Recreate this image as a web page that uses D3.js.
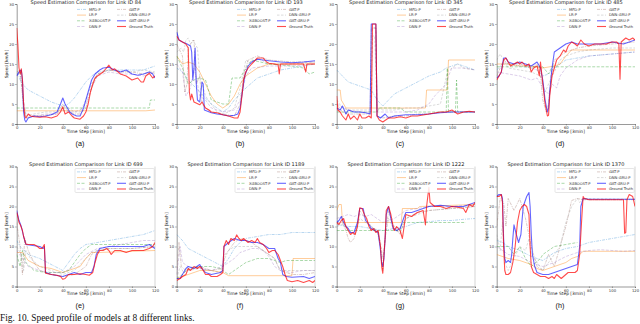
<!DOCTYPE html>
<html>
<head>
<meta charset="utf-8">
<script src="https://cdn.jsdelivr.net/npm/d3@7"></script>
<style>
  body { margin: 0; background: #fff; }
  svg { display: block; }
</style>
</head>
<body>
<div id="chart"></div>
<script>
// Speed profile of 8 models at 8 links, one small panel per link

const links = [84, 193, 345, 485, 699, 1189, 1222, 1370];
const panelTags = ["(a)", "(b)", "(c)", "(d)", "(e)", "(f)", "(g)", "(h)"];
const seriesNames = ["MFD-P", "LR-P", "XGBOOST-P", "DNN-P", "GAT-P", "DNN-GRU-P", "GAT-GRU-P", "Ground Truth"];
const xTicks = [0, 20, 40, 60, 80, 100, 120];
const yTicks = [0, 5, 10, 15, 20, 25, 30];

// ---- link 84 ----
const mfd84 = [[1,13],[3,11],[5,10],[10,8.5],[20,7],[30,5.5],[40,4.5],[45,5],[50,6.5],[55,8.5],[60,10.5],[65,12],[70,13],[80,13.5],[90,13.5],[100,13.5],[110,13.5],[120,14.5]];
const lr84 = [[0,3.3],[75,3.3],[112,3.3],[120,3.5]];
const xgb84 = [[0,4],[96,4],[115,4],[116,6],[120,6]];
const dnn84 = [[0,12],[3,13],[6,6],[8,2.5],[15,2],[25,2.5],[35,2.5],[40,3.5],[45,3],[50,3],[55,3.5],[60,5],[65,9],[70,12],[80,13],[90,12.5],[100,12.5],[110,12],[120,13]];
const gat84 = [[0,13],[3,13.5],[6,4],[8,1.5],[15,2],[25,2.2],[35,2.5],[40,5],[45,3],[50,2.5],[55,2.5],[60,4],[65,9],[70,12.5],[80,13.5],[90,13],[100,13],[110,12.5],[115,13],[120,12.5]];
const dnngru84 = [[0,12.5],[3,13],[6,5],[8,2],[15,2.5],[25,3],[35,3],[40,4],[45,4],[50,3],[55,3],[60,6],[65,10],[70,12.5],[80,13.5],[90,13.2],[100,13],[110,13.5],[120,13]];
const gatgru84 = [[0,12],[2,13],[4,13.5],[5,11],[6,3],[7,1],[8,0.5],[10,1.5],[15,2],[20,1.8],[25,2],[30,2.3],[35,3],[38,5],[40,6.5],[42,5],[44,4],[46,3],[48,2.5],[52,2],[55,2],[58,4],[60,6],[62,8],[65,11],[68,12.5],[72,13.5],[75,14],[80,14.2],[85,13.5],[90,13],[95,13.5],[100,12.5],[105,12.2],[110,12.5],[115,13],[118,12.5],[120,11.5]];
const truth84 = [[0,24],[1,20],[2,14],[3,12.5],[4,13.8],[5,11],[6,5],[7,2],[8,1.5],[10,2.5],[12,2],[15,1.8],[20,1.7],[25,1.8],[30,1.5],[35,2],[38,3],[40,4.3],[42,2.5],[45,3],[48,2],[50,1.5],[55,1.2],[58,2],[60,3],[62,5],[64,8],[66,10],[68,11.5],[70,12],[75,13],[80,14.7],[83,13.5],[85,13.8],[90,12.5],[95,12],[100,11],[105,11.5],[108,10.5],[110,10.5],[112,12],[115,12.7],[118,11.5],[120,12]];

// ---- link 193 ----
const mfd193 = [[0,14],[5,13],[10,11],[20,8],[30,5],[40,3],[45,4],[50,6],[60,9],[70,11.5],[80,12.5],[90,13.5],[100,14],[110,14.5],[120,15]];
const lr193 = [[0,17],[5,15],[10,15.5],[15,15],[20,13],[25,10],[30,7],[35,5],[40,4],[45,5],[50,7],[55,10],[60,12],[70,14],[80,15],[90,15],[100,15],[110,15],[120,15]];
const xgb193 = [[0,17],[5,14],[10,10],[15,11],[20,11.5],[25,11],[30,6],[35,5.5],[40,5],[45,5],[48,11.5],[55,11.5],[58,13],[65,16],[80,15],[100,14.5],[110,14],[115,12.5],[120,13]];
const dnn193 = [[0,15],[5,13],[8,7],[12,9],[15,14],[18,10],[20,7],[25,6],[30,4],[40,3],[50,3.5],[55,6],[60,12],[65,14],[80,14.5],[100,14.5],[120,15]];
const gat193 = [[0,20],[5,17],[7,8],[9,10],[10,19],[12,20],[15,21],[17,10],[20,12],[22,5],[25,4],[30,3],[40,2.5],[50,2],[55,5],[58,12],[62,16],[70,17],[80,16],[100,15.5],[120,15.5]];
const dnngru193 = [[0,18],[4,19],[6,18],[8,21],[10,21.5],[12,20],[14,21],[16,20],[18,19],[20,12],[22,10],[25,7],[30,5],[35,3],[40,2.5],[45,3],[50,4],[55,9],[58,13],[60,16],[65,15],[70,16.5],[80,15],[100,15],[120,15.5]];
const gatgru193 = [[0,23],[2,21],[5,20.5],[9,20],[12,19.5],[13,18],[14,11],[15,14],[16,19],[17,10],[18,6],[20,5.5],[22,10.5],[23,10],[24,3.5],[30,2.8],[35,2.5],[40,2.3],[45,2],[50,2.2],[53,2.5],[55,4],[57,8],[59,12],[62,14.5],[65,15.5],[70,16.2],[75,16],[80,15.8],[90,15.5],[100,15.3],[110,15.5],[120,15.8]];
const truth193 = [[0,22],[2,21],[5,20.5],[8,20],[10,19],[11,8],[12,6],[13,7.5],[15,5.5],[20,4.8],[22,5.5],[25,4],[28,3.5],[30,3],[35,2.8],[40,2.3],[45,2],[50,1.5],[53,1.5],[55,3],[57,8],[58,11],[60,13],[62,14],[65,15],[70,16.5],[75,16.5],[78,15.5],[80,15.2],[85,15],[88,14.8],[89,12.5],[90,15],[100,15],[110,15],[112,13],[113,15],[120,15]];

// ---- link 345 ----
const mfd345 = [[0,13.5],[5,12],[10,10.5],[20,9.5],[30,8.5],[35,6],[40,4.5],[45,6],[50,7.5],[60,9],[70,10.5],[80,12],[90,13],[95,14],[100,14.5],[105,15],[110,14.5],[120,13.5]];
const lr345 = [[0,8.5],[3,8.5],[4,6],[8,4],[77,4],[78,8.5],[96,8.5],[97,16],[120,16]];
const xgb345 = [[0,3],[30,3],[35,3],[37,4],[55,4],[60,3],[95,3],[96,14],[97,3],[103,3],[104,11],[105,3],[120,3]];
const dnn345 = [[0,5],[10,3.5],[20,3],[30,3],[31,24],[34,24],[35,3],[40,3],[50,3],[60,3],[70,3.5],[80,5],[85,7],[90,8.5],[95,10],[97,12],[100,14],[105,14],[110,14],[120,13.5]];
const gat345 = [[0,5],[5,3],[10,2.5],[20,2.5],[29,2.5],[30,24],[34,24],[35,2],[40,1.5],[50,2],[60,2],[70,2.5],[80,2.5],[90,3],[100,3],[110,3],[120,3]];
const dnngru345 = [[0,6],[5,4],[10,3.5],[20,3.5],[30,3.5],[31,22],[33,22],[35,4],[40,3.5],[50,3.5],[60,4],[70,4],[80,4.5],[90,5],[96,13],[100,14],[105,15],[110,14],[120,13.5]];
const gatgru345 = [[0,4],[3,3.5],[5,4.5],[8,2.5],[10,3.5],[15,3],[20,3],[25,2.8],[29,2.5],[30,25],[34,25],[35,2],[38,1.5],[42,2.5],[45,1.5],[50,2],[60,2.3],[70,2.3],[80,2.5],[90,2.8],[100,3],[110,3],[120,3]];
const truth345 = [[0,7],[1,3.5],[3,3],[5,2],[8,1],[10,2.5],[12,1.2],[15,2],[18,1],[20,2.5],[22,1.5],[25,1.5],[28,2],[30,1.5],[31,25],[34,25],[35,2],[37,1],[40,0.5],[45,1.5],[50,1.5],[55,1.8],[60,1.5],[65,2],[70,2],[80,2.5],[90,3],[95,3],[100,3.5],[105,2.5],[110,3],[115,3.2],[120,3]];

// ---- link 485 ----
const mfd485 = [[0,13.5],[5,15],[10,15],[20,14.5],[30,14],[35,13.5],[40,12],[45,12.5],[50,14],[55,15],[60,16],[70,16.5],[80,17],[100,17.5],[120,18]];
const lr485 = [[0,15],[10,15],[20,14.5],[30,14.5],[40,14],[50,14.5],[55,15],[60,17],[65,18.5],[80,18.5],[100,18.5],[120,18.5]];
const xgb485 = [[0,14.3],[40,14.3],[45,12.5],[48,14.3],[120,14.3]];
const dnn485 = [[0,13],[10,12.5],[20,12],[30,11],[35,11.5],[40,9],[45,7.5],[48,10],[52,9],[55,12],[60,14],[70,16],[80,17],[100,17.5],[120,18]];
const gat485 = [[0,12],[3,14],[6,16],[10,15],[20,15],[30,14],[35,15],[38,12],[40,6],[43,3],[45,5],[47,12],[50,16],[60,18],[70,19],[80,19.5],[100,20],[120,20.5]];
const dnngru485 = [[0,16],[3,17.5],[6,16],[10,14],[20,13.5],[30,13],[38,12],[42,8],[45,10],[50,13],[55,16],[60,17],[70,18],[80,18.5],[100,19],[120,19]];
const gatgru485 = [[0,11.5],[2,12],[4,13],[6,16.5],[8,16.5],[10,15.5],[15,15],[20,15.5],[25,15],[30,14.5],[35,15.5],[38,14],[40,11],[42,6],[44,3],[45,4],[46,8],[48,14],[50,18],[55,19],[60,20],[65,20.5],[70,20],[75,20],[80,20],[85,20],[90,20],[100,20.5],[110,20],[115,20.5],[120,21]];
const truth485 = [[0,11],[2,12],[4,13],[6,16],[8,16.5],[10,15.5],[12,14.5],[15,15],[18,15.5],[20,15],[22,15.5],[25,14.5],[28,15],[30,13],[32,14],[35,14.5],[37,12],[38,15.5],[40,10],[42,5],[44,2],[45,2.2],[46,7],[48,12],[50,14],[52,16],[55,17],[58,18.5],[60,18],[62,19.5],[65,20.5],[68,20],[70,19.5],[73,21],[76,20],[80,19.5],[85,20],[90,20],[95,20],[100,20.5],[104,20.5],[106,20],[107,11.2],[108,20.5],[110,21],[112,21.5],[115,21],[118,21.5],[120,21]];

// ---- link 699 ----
const mfd699 = [[0,11.5],[3,10],[10,8],[20,7],[30,5.5],[40,4],[45,6],[50,8],[55,9.5],[60,10.5],[70,11],[80,11.5],[90,12],[100,12.5],[110,13],[120,14]];
const lr699 = [[0,8.5],[5,8.5],[10,6.5],[20,5],[30,4.5],[40,3.5],[45,4],[55,5],[60,7],[65,8.5],[70,8.5],[120,9]];
const xgb699 = [[0,8],[3,5],[5,9],[8,6],[15,4],[25,3.5],[35,3.5],[40,3.5],[45,4],[50,6],[55,8],[60,9.5],[65,10.5],[70,10.5],[120,10.5]];
const dnn699 = [[0,9],[5,7],[10,5],[20,4],[30,3.5],[40,3.5],[50,5],[60,8],[70,9.5],[80,10],[90,10.5],[100,11],[110,11.5],[120,11.5]];
const gat699 = [[0,16],[3,10],[5,3],[7,12],[10,9],[15,6],[20,4],[30,3],[40,2.5],[50,3],[60,5],[65,8],[70,9],[80,9.5],[100,9.5],[120,10]];
const dnngru699 = [[0,10],[4,8],[6,4],[8,9],[12,7],[20,5],[30,4],[40,3],[50,4],[60,7],[65,8.5],[70,9],[80,9.5],[100,9.5],[120,10]];
const gatgru699 = [[0,19],[2,16.5],[4,15],[6,12.5],[8,10.5],[20,10],[23,9.5],[24,10],[25,3.5],[30,3],[40,2.5],[45,3],[50,3.5],[55,3],[60,3.5],[65,3.5],[67,5],[69,8],[72,9.5],[80,10],[90,10],[100,10],[110,10],[115,10.5],[120,9.5]];
const truth699 = [[0,18.5],[1,17.5],[2,16],[3,15.5],[5,14],[6,12.5],[8,10.6],[10,10.5],[15,10.5],[18,10],[20,9.5],[22,9.5],[24,10.5],[25,3.3],[30,3],[35,2.8],[38,2.5],[40,1.8],[42,2],[45,3],[50,3],[55,3.2],[60,3],[63,2.8],[66,3.5],[68,6],[70,8],[72,9],[75,9],[78,9.5],[80,9],[82,8],[85,9],[90,9],[95,8.5],[100,9],[105,9],[110,9],[115,9.5],[118,10],[120,11]];

// ---- link 1189 ----
const mfd1189 = [[0,13],[5,11.5],[10,9.5],[20,8],[30,6.5],[40,5],[45,7],[50,9.5],[55,11],[60,12],[70,12.5],[80,13],[90,13],[100,13.5],[120,13.5]];
const lr1189 = [[0,2],[10,3],[20,4],[30,4],[40,3.5],[45,2.7],[100,2.7],[101,7],[120,7]];
const xgb1189 = [[0,2],[5,3],[10,4.5],[20,5],[30,5],[38,4.5],[40,4],[45,3],[50,4],[60,6],[70,7],[80,7],[90,6],[95,6.5],[100,6.5],[120,6.5]];
const dnn1189 = [[0,3],[3,10],[5,6],[10,5],[20,4.5],[30,4],[40,5],[45,6],[50,7],[55,8.5],[60,9],[65,9.5],[70,9.5],[75,9],[80,7.5],[85,5],[90,4],[100,3.5],[110,4],[120,4]];
const gat1189 = [[0,3],[2,11],[4,5],[8,4],[15,4.5],[20,5],[30,4],[40,4.5],[42,8],[45,9],[50,11],[55,12],[60,11.5],[65,11],[70,10],[75,9],[80,8],[85,7],[88,5],[90,4],[100,3],[110,3],[120,3.5]];
const dnngru1189 = [[0,2],[3,5],[6,3.5],[10,4],[20,4.5],[30,4],[38,3.5],[40,6],[45,9],[50,10],[60,10],[70,10],[80,8],[85,7],[88,5],[92,4],[100,4],[110,4],[120,4]];
const gatgru1189 = [[0,2],[3,2],[5,3],[8,4.5],[10,5],[15,4.5],[20,5.5],[22,4.5],[25,3.5],[30,3],[38,3.5],[40,4],[41,10],[45,11],[50,12],[55,11.5],[60,11.5],[65,11],[70,11],[75,10.5],[80,9.5],[85,9.5],[88,7],[90,6],[92,3],[95,2.5],[100,2.3],[110,2.5],[115,2],[120,2.5]];
const truth1189 = [[0,1.5],[3,2],[5,2.5],[8,3],[10,4.5],[12,4],[15,5],[18,4.5],[20,5],[22,4.5],[25,3],[28,3],[30,2.5],[35,2.5],[38,3],[40,3.5],[41,10],[43,11.5],[45,10.5],[47,12],[50,11.5],[52,12.9],[54,12],[56,11.5],[58,12],[60,11.5],[62,11],[65,11.5],[68,11],[70,12],[72,11],[75,10.5],[78,9.5],[80,8.5],[83,9],[85,9],[88,8],[90,6.5],[92,5],[94,3],[96,1.5],[100,1.2],[105,1.5],[110,1],[115,1.5],[118,1],[120,1.5]];

// ---- link 1222 ----
const mfd1222 = [[0,15.5],[10,15],[20,15],[30,14.5],[40,14],[50,14.5],[60,15],[70,16],[80,16.2],[90,16.5],[100,16.5],[110,16.8],[120,17]];
const lr1222 = [[0,19],[2,20.5],[4,20.5],[5,16],[56,16],[57,19.5],[70,19.5],[72,20],[120,20.5]];
const xgb1222 = [[0,14],[55,14],[57,16],[112,16]];
const dnn1222 = [[0,17],[5,17.5],[10,18],[15,17.5],[20,18],[25,17.5],[30,18],[35,17],[40,16],[45,16.5],[50,17],[55,18],[60,19],[70,19.5],[80,20],[100,20],[120,20.5]];
const gat1222 = [[0,16],[5,16],[8,14],[10,12],[12,11],[15,12],[18,15],[20,19],[25,17],[30,15],[35,14],[38,10],[40,4],[42,12],[45,19],[48,16],[50,15],[55,13],[58,16],[60,17],[70,18.5],[80,19],[100,19.5],[120,20]];
const dnngru1222 = [[0,15],[5,15.5],[10,14],[15,13],[20,17],[25,16],[30,15],[35,14],[38,11],[40,7],[42,12],[45,17],[50,14],[55,13.5],[60,17],[70,18],[80,19],[100,19.5],[120,20]];
const gatgru1222 = [[0,16],[2,16.5],[4,17.5],[6,16],[8,15],[10,14.5],[12,13.5],[15,13.5],[18,16],[20,19.5],[23,19.5],[25,16.5],[28,15.5],[30,14.5],[33,14],[36,13.5],[38,9],[39,6],[40,5],[41,7],[42,12],[43,18],[45,20],[47,17],[49,14.5],[52,14],[55,14.5],[58,17],[60,18.5],[65,18.5],[70,19],[75,19.5],[80,20],[90,20.3],[100,20],[110,20],[115,20.5],[120,21]];
const truth1222 = [[0,16],[2,15.5],[4,16.5],[6,17],[8,15],[10,14],[12,13],[14,13.5],[16,13],[18,15],[20,19.7],[22,19.5],[24,18],[26,17],[28,15],[30,14],[32,14.5],[34,13.5],[36,14],[38,10],[39,5],[40,3.3],[41,8],[42,12],[43,19],[45,20],[47,18],[49,15],[50,14],[52,15],[55,14],[57,12],[60,18],[65,17.5],[70,18.5],[75,19],[77,15.4],[78,20],[80,24.8],[81,21],[85,20],[90,20],[95,19.5],[100,20],[105,19.8],[110,19.5],[112,18.5],[115,20.5],[118,20],[120,21]];

// ---- link 1370 ----
const mfd1370 = [[0,11.5],[5,11],[10,10],[20,9],[30,7.5],[40,6.5],[50,8.5],[60,9.5],[70,10],[80,11],[90,11.5],[100,12],[110,12.5],[120,13]];
const lr1370 = [[0,8],[10,7],[20,6.5],[30,5.5],[35,4.5],[40,4],[50,5],[60,6],[65,7],[70,7.5],[75,8.8],[120,8.8]];
const xgb1370 = [[0,10],[10,10],[15,8],[20,10],[25,7],[30,5],[38,7],[40,8],[50,10],[60,10.5],[70,11]];
const dnn1370 = [[0,10],[5,9],[10,8],[20,7.5],[30,6],[40,5],[50,6],[60,7.5],[70,8.5],[80,9],[90,9.2],[100,9],[110,8.8],[120,9]];
const gat1370 = [[0,15],[3,22],[6,21],[8,15],[10,22],[15,19],[20,22],[25,17],[30,10],[35,5],[40,4],[45,8],[50,5],[55,10],[60,15],[65,21.5],[70,22],[75,21.7],[120,21.7]];
const dnngru1370 = [[0,13],[3,9],[5,16],[7,6],[10,4],[15,7],[20,10],[25,9],[28,12],[30,8],[35,6],[40,4],[45,6],[50,8],[55,10],[60,16],[65,20],[70,22],[72,21],[75,22],[120,21.8]];
const gatgru1370 = [[0,22.5],[2,23],[4,23],[5,22],[6,12],[7,7],[8,6],[10,6.5],[12,6],[13,8],[14,12],[15,15.4],[17,13],[19,11],[21,13],[23,20],[26,22.5],[28,23.5],[29,20],[30,13],[31,8],[33,5],[35,3.5],[40,3],[45,3],[50,3.5],[55,4],[60,4.5],[65,5],[70,5.5],[72,10],[73,20],[75,22],[80,21.8],[100,21.8],[110,21.8],[120,21.8]];
const truth1370 = [[0,22.5],[2,22.5],[4,23],[5,21],[6,10],[7,4],[8,3],[10,3],[12,3.5],[14,6],[15,8],[16,10],[18,16],[20,19],[22,20],[24,20.5],[26,20],[28,18],[29,10],[30,5],[32,3.5],[35,3],[38,2.5],[40,2.5],[42,2.5],[45,2],[48,2.5],[50,2],[52,3],[54,2.5],[56,2],[58,2.5],[60,3],[62,3.5],[65,3.5],[68,3.5],[70,4],[72,8],[74,18],[75,22.5],[76,22],[80,21.7],[90,21.7],[100,21.7],[110,21.7],[111,13.3],[112,13.5],[113,21.7],[115,23],[118,22.5],[120,20]];

// lookup table built from the arrays above
const panels = [
  [mfd84, lr84, xgb84, dnn84, gat84, dnngru84, gatgru84, truth84],
  [mfd193, lr193, xgb193, dnn193, gat193, dnngru193, gatgru193, truth193],
  [mfd345, lr345, xgb345, dnn345, gat345, dnngru345, gatgru345, truth345],
  [mfd485, lr485, xgb485, dnn485, gat485, dnngru485, gatgru485, truth485],
  [mfd699, lr699, xgb699, dnn699, gat699, dnngru699, gatgru699, truth699],
  [mfd1189, lr1189, xgb1189, dnn1189, gat1189, dnngru1189, gatgru1189, truth1189],
  [mfd1222, lr1222, xgb1222, dnn1222, gat1222, dnngru1222, gatgru1222, truth1222],
  [mfd1370, lr1370, xgb1370, dnn1370, gat1370, dnngru1370, gatgru1370, truth1370]
];

// line look per model, same order as seriesNames
const looks = [
  {color: "#3a8fd6", op: 0.45, w: 0.8, dash: "3,1,1,1"},
  {color: "#ff8c1a", op: 0.55, w: 0.8, dash: null},
  {color: "#2ca02c", op: 0.5, w: 0.8, dash: "3,1.5"},
  {color: "#9467bd", op: 0.4, w: 0.8, dash: "3,1.5"},
  {color: "#8c564b", op: 0.45, w: 0.7, dash: "3,1,1,1"},
  {color: "#7f7f7f", op: 0.4, w: 0.7, dash: "2.5,1.5"},
  {color: "#0000ff", op: 0.6, w: 1.1, dash: null},
  {color: "#ff0000", op: 0.7, w: 1.1, dash: null}
];

const W = 640, H = 324;
const sansFont = "DejaVu Sans, sans-serif";

const svg = d3.select("#chart").append("svg")
  .attr("width", W)
  .attr("height", H);

svg.append("rect").attr("width", W).attr("height", H).attr("fill", "#fff");

// one panel per link
panels.forEach(function(series, i) {
  const col = i % 4, row = Math.floor(i / 4);
  const left = col * 160 + 16.7, right = col * 160 + 155;
  const top = row === 0 ? 4 : 166.5;
  const bottom = top + 120;

  const x = d3.scaleLinear().domain([0, 120]).range([left, right]);
  const y = d3.scaleLinear().domain([0, 30]).range([bottom, top]);

  const g = svg.append("g");

  g.append("clipPath").attr("id", "clip" + i)
    .append("rect")
    .attr("x", left).attr("y", top)
    .attr("width", right - left).attr("height", bottom - top);

  // axes
  const xAxis = d3.axisBottom(x).tickValues(xTicks).tickSize(1.5).tickPadding(1);
  const yAxis = d3.axisLeft(y).tickValues(yTicks).tickSize(1.5).tickPadding(1);

  const gx = g.append("g").attr("transform", "translate(0," + bottom + ")").call(xAxis);
  const gy = g.append("g").attr("transform", "translate(" + left + ",0)").call(yAxis);
  [gx, gy].forEach(function(a) {
    a.selectAll(".domain").attr("stroke", "#555").attr("stroke-width", 0.6);
    a.selectAll(".tick line").attr("stroke", "#555").attr("stroke-width", 0.5);
    a.selectAll("text").attr("font-family", sansFont).attr("font-size", 3.8).attr("fill", "#333");
  });

  if (row === 1) {
    g.append("line")
      .attr("x1", right).attr("x2", right)
      .attr("y1", top).attr("y2", bottom)
      .attr("stroke", "#bbb").attr("stroke-width", 0.6);
  }

  // lines
  const line = d3.line()
    .x(function(d) { return x(d[0]); })
    .y(function(d) { return y(d[1]); });

  const lines = g.append("g").attr("clip-path", "url(#clip" + i + ")");
  series.forEach(function(pts, k) {
    const lk = looks[k];
    lines.append("path")
      .attr("d", line(pts))
      .attr("fill", "none")
      .attr("stroke", lk.color)
      .attr("stroke-opacity", lk.op)
      .attr("stroke-width", lk.w)
      .attr("stroke-dasharray", lk.dash)
      .attr("stroke-linejoin", "round");
  });

  // texts
  g.append("text")
    .attr("x", (left + right) / 2).attr("y", row === 0 ? 4.4 : top - 0.8)
    .attr("text-anchor", "middle")
    .attr("font-family", sansFont).attr("font-size", 5).attr("fill", "#222")
    .text("Speed Estimation Comparison for Link ID " + links[i]);

  g.append("text")
    .attr("x", (left + right) / 2).attr("y", bottom + 8.8)
    .attr("text-anchor", "middle")
    .attr("font-family", sansFont).attr("font-size", 4.4).attr("fill", "#222")
    .text("Time Step [3min]");

  g.append("text")
    .attr("transform", "translate(" + (col * 160 + 7.8) + "," + (top + 60) + ") rotate(-90)")
    .attr("text-anchor", "middle")
    .attr("font-family", sansFont).attr("font-size", 4.2).attr("fill", "#222")
    .text("Speed [km/h]");

  g.append("text")
    .attr("x", col * 160 + 80).attr("y", bottom + 21.5)
    .attr("text-anchor", "middle")
    .attr("font-family", "Liberation Sans, Arial, sans-serif").attr("font-size", 7.2).attr("fill", "#111")
    .text(panelTags[i]);

  // legend, two columns of four
  const leg = g.append("g");
  const lx = col * 160 + 75, ly = top + 2;
  if (row === 1) {
    leg.append("rect")
      .attr("x", lx).attr("y", ly)
      .attr("width", right - lx - 0.8).attr("height", 24)
      .attr("rx", 1).attr("fill", "#fff").attr("fill-opacity", 0.85)
      .attr("stroke", "#ccc").attr("stroke-width", 0.5);
  }
  seriesNames.forEach(function(name, k) {
    const c = Math.floor(k / 4), r = k % 4;
    const ex = lx + 2 + c * 40, ey = ly + 4.6 + r * 5.7;
    const lk = looks[k];
    leg.append("line")
      .attr("x1", ex).attr("x2", ex + 9)
      .attr("y1", ey - 1.2).attr("y2", ey - 1.2)
      .attr("stroke", lk.color).attr("stroke-opacity", lk.op)
      .attr("stroke-width", lk.w).attr("stroke-dasharray", lk.dash);
    leg.append("text")
      .attr("x", ex + 12).attr("y", ey)
      .attr("font-family", sansFont).attr("font-size", 3.7).attr("fill", "#333")
      .text(name);
  });
});

svg.append("text")
  .attr("x", 0).attr("y", 321)
  .attr("font-family", "Liberation Serif, Times New Roman, serif")
  .attr("font-size", 9.4).attr("fill", "#111")
  .text("Fig. 10.  Speed profile of models at 8 different links.");
</script>
</body>
</html>
